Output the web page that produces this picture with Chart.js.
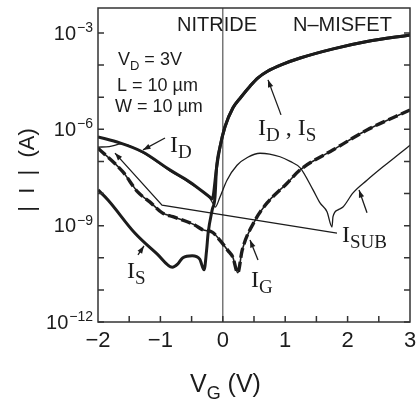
<!DOCTYPE html>
<html>
<head>
<meta charset="utf-8">
<script src="https://cdn.jsdelivr.net/npm/chart.js@4.4.0/dist/chart.umd.min.js"></script>
<style>
  html, body { margin: 0; padding: 0; background: #fff; }
</style>
</head>
<body>
<canvas id="chart" width="416" height="404"></canvas>
<script>
// gate voltage V_G (V) and current |I| (A)

// on-state branch shared by I_D and I_S
const vOn = [-0.1, -0.045, 0.035, 0.163, 0.29, 0.436, 0.564, 0.71, 0.965, 1.24, 1.77, 2.31, 3.0];
const iOn = [6.3e-8, 2.8e-7, 1.2e-6, 4.7e-6, 1.0e-5, 2.2e-5, 4.0e-5, 6.3e-5, 1.07e-4, 1.66e-4, 3.2e-4, 5.4e-4, 8.7e-4];

// off-state I_D
const vDoff = [-2, -1.65, -1.29, -0.85, -0.53, -0.21, -0.17];
const iDoff = [5.8e-7, 3.8e-7, 2.0e-7, 5.5e-8, 2.3e-8, 7.8e-9, 6.8e-9];

// off-state I_S
const vSoff = [-2, -1.84, -1.41, -1.05, -0.81, -0.72, -0.64, -0.49, -0.37, -0.30, -0.26, -0.235, -0.17, -0.125];
const iSoff = [1.3e-8, 6.3e-9, 5.9e-10, 1.3e-10, 5.1e-11, 6.5e-11, 1.0e-10, 1.15e-10, 9.1e-11, 4.2e-11, 1.7e-10, 5.9e-10, 3.1e-9, 7.8e-9];

// I_G
const vG = [-2, -1.6, -1.36, -1.17, -0.97, -0.80, -0.45, -0.32, -0.17, -0.045, 0.08, 0.16, 0.24, 0.31, 0.52, 0.71, 1.03, 1.24, 1.77, 2.31, 3.0];
const iG = [2.6e-7, 4.7e-8, 1.1e-8, 5.5e-9, 2.5e-9, 1.9e-9, 1.05e-9, 7.4e-10, 6.3e-10, 3.5e-10, 1.7e-10, 1.05e-10, 3.4e-11, 1.7e-10, 1.5e-9, 5.1e-9, 2.1e-8, 5.5e-8, 2.3e-7, 9.5e-7, 4.0e-6];

// I_SUB
const vSub = [-2, -1.82, -1.62, -1.29, -0.85, -0.53, -0.21, -0.16, -0.12, -0.045, 0.067, 0.228, 0.40, 0.596, 0.75, 0.917, 1.08, 1.24, 1.446, 1.558, 1.67, 1.75, 1.766, 1.846, 1.926, 2.087, 2.31, 2.567, 2.84, 3.0];
const iSub = [2.8e-7, 2.9e-7, 3.5e-7, 1.9e-7, 5.1e-8, 2.1e-8, 7.2e-9, 5.0e-9, 3.8e-9, 7.8e-9, 2.6e-8, 7.6e-8, 1.35e-7, 1.8e-7, 1.7e-7, 1.4e-7, 1.0e-7, 6.3e-8, 1.3e-8, 5.1e-9, 2.7e-9, 9.1e-10, 1.9e-9, 3.1e-9, 3.8e-9, 1.05e-8, 2.6e-8, 6.8e-8, 1.8e-7, 3.2e-7];

// axes
const xLabels = [-2, -1, 0, 1, 2, 3];
const yDecades = [-12, -11, -10, -9, -8, -7, -6, -5, -4, -3];
const yLabelExps = [-12, -9, -6, -3];

const INK = '#1c1c1c';
const SANS = '"Liberation Sans", Arial, sans-serif';
const SERIF = '"Liberation Serif", "Times New Roman", serif';

const pts = (vs, is) => vs.map((v, k) => ({ x: v, y: is[k] }));
const curve = (data, w, dash) => ({
  data, borderColor: INK, borderWidth: w, borderDash: dash || [],
  pointRadius: 0, fill: false, cubicInterpolationMode: 'monotone'
});

// text with "_x" parts drawn as subscripts
function rich(ctx, parts, x, y, big, small, drop) {
  ctx.textAlign = 'left';
  ctx.textBaseline = 'alphabetic';
  for (const p of parts) {
    const sub = p.startsWith('_');
    const t = sub ? p.slice(1) : p;
    ctx.font = sub ? small : big;
    ctx.fillText(t, x, sub ? y + drop : y);
    x += ctx.measureText(t).width;
  }
}

function arrow(ctx, pts) {
  ctx.beginPath();
  ctx.moveTo(pts[0][0], pts[0][1]);
  for (let k = 1; k < pts.length; k++) ctx.lineTo(pts[k][0], pts[k][1]);
  ctx.stroke();
  const [ax, ay] = pts[pts.length - 2], [bx, by] = pts[pts.length - 1];
  const ang = Math.atan2(by - ay, bx - ax), L = 8, W = 0.35;
  ctx.beginPath();
  ctx.moveTo(bx, by);
  ctx.lineTo(bx - L * Math.cos(ang - W), by - L * Math.sin(ang - W));
  ctx.lineTo(bx - L * Math.cos(ang + W), by - L * Math.sin(ang + W));
  ctx.closePath();
  ctx.fill();
}

const decor = {
  id: 'decor',
  beforeDatasetsDraw(chart) {
    const { ctx, chartArea: a, scales: { x } } = chart;
    const x0 = x.getPixelForValue(0);
    ctx.save();
    ctx.strokeStyle = '#555';
    ctx.lineWidth = 1.2;
    ctx.beginPath(); ctx.moveTo(x0, a.top); ctx.lineTo(x0, a.bottom); ctx.stroke();
    ctx.restore();
  },
  afterDraw(chart) {
    const { ctx, chartArea: a, scales: { x, y } } = chart;
    const P = (v, e) => [x.getPixelForValue(v), y.getPixelForValue(Math.pow(10, e))];
    ctx.save();
    ctx.strokeStyle = '#333';
    ctx.fillStyle = INK;
    ctx.lineWidth = 1.5;
    ctx.strokeRect(a.left, a.top, a.right - a.left, a.bottom - a.top);

    // inward tick marks
    ctx.beginPath();
    yDecades.forEach(e => {
      const py = y.getPixelForValue(Math.pow(10, e));
      ctx.moveTo(a.left, py); ctx.lineTo(a.left + 6, py);
      ctx.moveTo(a.right, py); ctx.lineTo(a.right - 6, py);
    });
    for (let v = -1.5; v < 3; v += 0.5) {
      const px = x.getPixelForValue(v);
      ctx.moveTo(px, a.bottom); ctx.lineTo(px, a.bottom - 6);
    }
    ctx.stroke();

    // y tick labels 10^n
    yLabelExps.forEach(e => {
      const py = y.getPixelForValue(Math.pow(10, e));
      ctx.textAlign = 'right';
      ctx.textBaseline = 'alphabetic';
      ctx.font = '14px ' + SANS;
      const sup = '\u2212' + Math.abs(e);
      ctx.fillText(sup, a.left - 5, py - 1);
      const w = ctx.measureText(sup).width;
      ctx.font = '20px ' + SANS;
      ctx.textBaseline = 'middle';
      ctx.fillText('10', a.left - 6 - w, py + 1);
    });

    // axis titles
    ctx.save();
    ctx.translate(28, 170);
    ctx.rotate(-Math.PI / 2);
    ctx.textAlign = 'center';
    ctx.textBaseline = 'middle';
    ctx.font = '22px ' + SANS;
    ctx.fillText('|  I  |  (A)', 0, 0);
    ctx.restore();
    rich(ctx, ['V', '_G', ' (V)'], 190, 392, '25px ' + SANS, '18px ' + SANS, 7);

    // header and conditions
    ctx.font = '20px ' + SANS;
    ctx.textAlign = 'left';
    ctx.textBaseline = 'alphabetic';
    let p = P(-0.734, -2.93);
    ctx.fillText('NITRIDE', p[0], p[1]);
    p = P(1.125, -2.93);
    ctx.fillText('N\u2013MISFET', p[0], p[1]);
    p = P(-1.68, -3.99);
    rich(ctx, ['V', '_D', ' = 3V'], p[0], p[1], '18px ' + SANS, '13px ' + SANS, 5);
    p = P(-1.696, -4.80);
    rich(ctx, ['L = 10 \u00b5m'], p[0], p[1], '18px ' + SANS, '13px ' + SANS, 5);
    p = P(-1.728, -5.46);
    rich(ctx, ['W = 10 \u00b5m'], p[0], p[1], '18px ' + SANS, '13px ' + SANS, 5);

    // curve labels
    const big = '24px ' + SERIF, small = '19px ' + SERIF;
    p = P(-0.846, -6.70); rich(ctx, ['I', '_D'], p[0], p[1], big, small, 6);
    p = P(0.564, -6.17); rich(ctx, ['I', '_D', ' , ', 'I', '_S'], p[0], p[1], big, small, 6);
    p = P(1.91, -9.51); rich(ctx, ['I', '_SUB'], p[0], p[1], big, small, 6);
    p = P(0.452, -10.91); rich(ctx, ['I', '_G'], p[0], p[1], big, small, 6);
    p = P(-1.535, -10.63); rich(ctx, ['I', '_S'], p[0], p[1], big, small, 6);

    // arrows
    ctx.lineWidth = 1.3;
    ctx.strokeStyle = INK;
    arrow(ctx, [P(-0.926, -6.27), P(-1.279, -6.64)]);
    arrow(ctx, [P(0.933, -5.55), P(0.724, -4.46)]);
    arrow(ctx, [P(1.83, -9.23), P(-0.974, -8.36), P(-1.728, -6.74)]);
    arrow(ctx, [P(2.311, -8.60), P(2.183, -7.89)]);
    arrow(ctx, [P(0.564, -10.07), P(0.436, -9.45)]);
    arrow(ctx, [P(-1.359, -9.91), P(-1.263, -9.63)]);
    ctx.restore();
  }
};

new Chart(document.getElementById('chart'), {
  type: 'line',
  data: {
    datasets: [
      curve(pts(vSub, iSub), 1.3),
      curve(pts(vG, iG), 1.6),
      curve(pts(vG, iG), 3.4, [10, 4]),
      curve(pts(vSoff.concat(vOn), iSoff.concat(iOn)), 3),
      curve(pts(vDoff.concat(vOn), iDoff.concat(iOn)), 3)
    ]
  },
  options: {
    responsive: false,
    animation: false,
    devicePixelRatio: 1,
    layout: { padding: { top: 8, right: 6, left: 0, bottom: 0 } },
    plugins: { legend: { display: false }, tooltip: { enabled: false } },
    scales: {
      x: {
        type: 'linear', min: -2, max: 3,
        ticks: {
          stepSize: 0.5, autoSkip: false, maxRotation: 0, padding: -2, color: INK,
          font: { family: SANS, size: 22 },
          callback: v => xLabels.includes(v) ? (v < 0 ? '\u2212' + Math.abs(v) : String(v)) : ''
        },
        grid: { display: false },
        border: { display: false },
        afterFit: s => { s.height = 82; }
      },
      y: {
        type: 'logarithmic', min: 1e-12, max: 6e-3,
        afterBuildTicks: s => { s.ticks = yDecades.map(e => ({ value: Math.pow(10, e) })); },
        ticks: { display: false },
        grid: { display: false },
        border: { display: false },
        afterFit: s => { s.width = 98; }
      }
    }
  },
  plugins: [decor]
});
</script>
</body>
</html>
